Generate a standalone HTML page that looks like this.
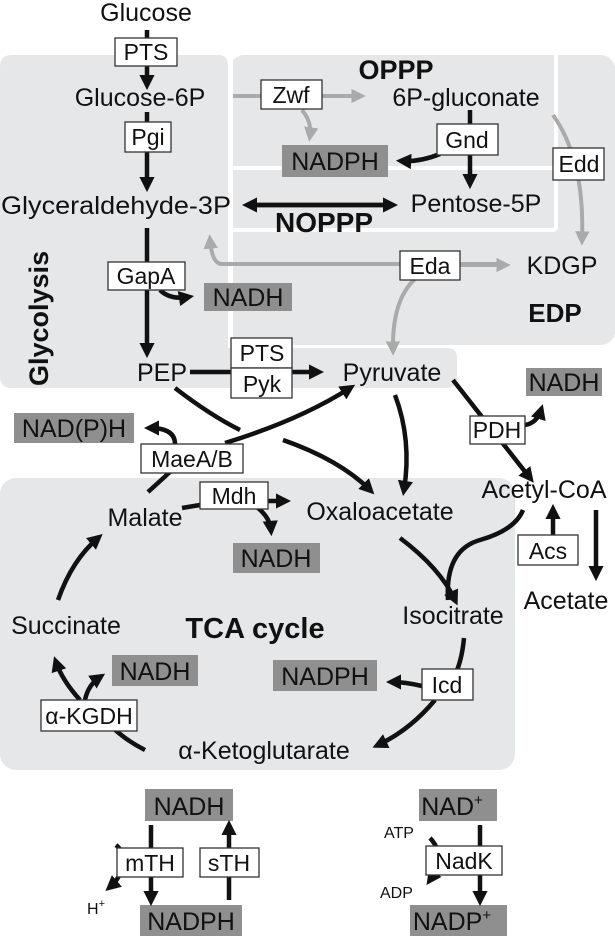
<!DOCTYPE html>
<html><head><meta charset="utf-8"><style>
html,body{margin:0;padding:0;background:#fff}
svg{display:block}
text{font-family:"Liberation Sans",sans-serif;fill:#111}
.l{font-size:25px}
.e{font-size:23px}
.b{font-weight:bold}
.bx{fill:#fff;stroke:#333;stroke-width:1.3}
.gb{fill:#8f8f8f}
.k{stroke:#111;stroke-width:4.5;fill:none}
.g{stroke:#aaa;stroke-width:4;fill:none}
</style></head><body>
<svg width="615" height="936" viewBox="0 0 615 936" xmlns="http://www.w3.org/2000/svg">
<defs>
<marker id="a" viewBox="0 0 10 10" refX="6" refY="5" markerWidth="3.4" markerHeight="3.4" orient="auto" markerUnits="strokeWidth"><path d="M0,0L10,5L0,10z" fill="#111"/></marker>
<marker id="ag" viewBox="0 0 10 10" refX="6" refY="5" markerWidth="3.6" markerHeight="3.6" orient="auto" markerUnits="strokeWidth"><path d="M0,0L10,5L0,10z" fill="#aaa"/></marker>
</defs>
<path d="M12,55 H218 Q228,55 228,65 V348 H447 Q457,348 457,358 V378 Q457,388 447,388 H12 Q0,388 0,376 V67 Q0,55 12,55Z" fill="#e6e7e8"/>
<rect x="230" y="55" width="385" height="290" rx="14" fill="#e6e7e8"/>
<rect x="229" y="55" width="4" height="293" fill="#fff"/>
<path d="M556,55 V226 Q556,230 552,230 H233" stroke="#fff" stroke-width="4" fill="none"/>
<path d="M233,168 H556" stroke="#fff" stroke-width="4"/>
<rect x="0" y="478" width="515" height="292" rx="16" fill="#e6e7e8"/>

<rect class="gb" x="282" y="145" width="106" height="32"/>
<rect class="gb" x="204" y="283" width="88" height="28"/>
<rect class="gb" x="526" y="368" width="76" height="28"/>
<rect class="gb" x="14" y="413" width="120" height="30"/>
<rect class="gb" x="233" y="543" width="87" height="30"/>
<rect class="gb" x="112" y="655" width="86" height="31"/>
<rect class="gb" x="273" y="660" width="104" height="31"/>
<rect class="gb" x="145" y="789" width="88" height="32"/>
<rect class="gb" x="140" y="905" width="102" height="31"/>
<rect class="gb" x="419" y="789" width="78" height="32"/>
<rect class="gb" x="410" y="905" width="97" height="31"/>

<path class="g" d="M233,96 H360" marker-end="url(#ag)"/>
<path class="g" d="M302,110 Q312,122 310,136" marker-end="url(#ag)"/>
<path class="g" d="M553,115 Q585,160 582,240" marker-end="url(#ag)"/>
<path class="g" d="M500,264 H222 Q212,264 210,240" marker-end="url(#ag)"/>
<path class="g" d="M459,265 H505" marker-end="url(#ag)"/>
<path class="g" d="M415,279 Q392,300 393,350" marker-end="url(#ag)"/>

<path class="k" d="M147,30 V84" marker-end="url(#a)"/>
<path class="k" d="M147,112 V186" marker-end="url(#a)"/>
<path class="k" d="M147,228 V352" marker-end="url(#a)"/>
<path class="k" d="M160,290 Q170,300 188,297" marker-end="url(#a)"/>
<path class="k" d="M190,372 H318" marker-end="url(#a)"/>
<path class="k" d="M470,110 V183" marker-end="url(#a)"/>
<path class="k" d="M440,154 Q420,162 402,161" marker-end="url(#a)"/>
<path class="k" d="M255,205 H392" marker-end="url(#a)"/>
<path class="k" d="M392,205 H248" marker-end="url(#a)"/>
<path class="k" d="M453,380 L530,478" marker-end="url(#a)"/>
<path class="k" d="M525,425 Q537,423 541,410" marker-end="url(#a)"/>
<path class="k" d="M395,395 Q412,440 404,490" marker-end="url(#a)"/>
<path class="k" d="M175,388 Q210,415 240,430"/>
<path class="k" d="M283,440 Q340,460 370,490" marker-end="url(#a)"/>
<path class="k" d="M225,443 Q300,420 350,388" marker-end="url(#a)"/>
<path class="k" d="M175,444 Q175,428 150,428" marker-end="url(#a)"/>
<path class="k" d="M148,492 L170,472"/>
<path class="k" d="M182,508 L200,505"/>
<path class="k" d="M268,501 H285" marker-end="url(#a)"/>
<path class="k" d="M258,508 Q270,518 271,530" marker-end="url(#a)"/>
<path class="k" d="M400,538 Q440,568 455,600" marker-end="url(#a)"/>
<path class="k" d="M523,510 Q515,530 480,540 Q445,550 448,600"/>
<path class="k" d="M553,565 V510" marker-end="url(#a)"/>
<path class="k" d="M596,510 V575" marker-end="url(#a)"/>
<path class="k" d="M464,638 Q462,660 455,675"/>
<path class="k" d="M422,686 Q405,682 392,682" marker-end="url(#a)"/>
<path class="k" d="M435,700 Q410,730 378,745" marker-end="url(#a)"/>
<path class="k" d="M145,750 Q125,740 110,725"/>
<path class="k" d="M80,700 Q62,680 56,662" marker-end="url(#a)"/>
<path class="k" d="M85,700 Q88,685 100,677" marker-end="url(#a)"/>
<path class="k" d="M58,600 Q72,560 98,538" marker-end="url(#a)"/>
<path class="k" d="M151,825 V900" marker-end="url(#a)"/>
<path class="k" d="M229,900 V826" marker-end="url(#a)"/>
<path class="k" d="M116,845 Q128,855 120,875"/>
<path class="k" d="M120,873 Q118,880 110,887" marker-end="url(#a)"/>
<path class="k" d="M480,825 V900" marker-end="url(#a)"/>
<path class="k" d="M430,838 Q442,850 437,870 L430,880" marker-end="url(#a)"/>

<rect class="bx" x="115" y="38" width="62" height="28"/><text class="e" x="146" y="60" text-anchor="middle">PTS</text>
<rect class="bx" x="125" y="122" width="46" height="30"/><text class="e" x="148" y="145" text-anchor="middle">Pgi</text>
<rect class="bx" x="108" y="262" width="77" height="28"/><text class="e" x="146" y="284" text-anchor="middle">GapA</text>
<rect class="bx" x="231" y="338" width="61" height="30"/><text class="e" x="262" y="361" text-anchor="middle">PTS</text>
<rect class="bx" x="231" y="368" width="61" height="30"/><text class="e" x="262" y="392" text-anchor="middle">Pyk</text>
<rect class="bx" x="261" y="80" width="61" height="29"/><text class="e" x="291" y="103" text-anchor="middle">Zwf</text>
<rect class="bx" x="437" y="124" width="61" height="31"/><text class="e" x="467" y="148" text-anchor="middle">Gnd</text>
<rect class="bx" x="553" y="148" width="51" height="32"/><text class="e" x="579" y="172" text-anchor="middle">Edd</text>
<rect class="bx" x="400" y="251" width="60" height="29"/><text class="e" x="430" y="274" text-anchor="middle">Eda</text>
<rect class="bx" x="470" y="416" width="55" height="28"/><text class="e" x="497" y="438" text-anchor="middle">PDH</text>
<rect class="bx" x="141" y="444" width="102" height="29"/><text class="e" x="192" y="467" text-anchor="middle">MaeA/B</text>
<rect class="bx" x="200" y="482" width="68" height="27"/><text class="e" x="234" y="504" text-anchor="middle">Mdh</text>
<rect class="bx" x="518" y="535" width="60" height="30"/><text class="e" x="548" y="559" text-anchor="middle">Acs</text>
<rect class="bx" x="422" y="669" width="51" height="31"/><text class="e" x="447" y="693" text-anchor="middle">Icd</text>
<rect class="bx" x="41" y="700" width="96" height="31"/><text class="e" x="89" y="724" text-anchor="middle">α-KGDH</text>
<rect class="bx" x="117" y="848" width="66" height="29"/><text class="e" x="150" y="871" text-anchor="middle">mTH</text>
<rect class="bx" x="200" y="848" width="59" height="29"/><text class="e" x="229" y="871" text-anchor="middle">sTH</text>
<rect class="bx" x="426" y="846" width="76" height="29"/><text class="e" x="464" y="869" text-anchor="middle">NadK</text>

<g class="l" text-anchor="middle">
<text x="146" y="21">Glucose</text>
<text x="140" y="106">Glucose-6P</text>
<text x="116" y="214" textLength="230" lengthAdjust="spacingAndGlyphs">Glyceraldehyde-3P</text>
<text x="162" y="381">PEP</text>
<text x="392" y="381">Pyruvate</text>
<text x="466" y="106">6P-gluconate</text>
<text x="476" y="212">Pentose-5P</text>
<text x="562" y="274">KDGP</text>
<text x="544" y="498">Acetyl-CoA</text>
<text x="145" y="526">Malate</text>
<text x="380" y="520">Oxaloacetate</text>
<text x="566" y="609">Acetate</text>
<text x="66" y="634">Succinate</text>
<text x="453" y="624">Isocitrate</text>
<text x="264" y="759">α-Ketoglutarate</text>
<text x="335" y="170">NADPH</text>
<text x="248" y="306">NADH</text>
<text x="564" y="391">NADH</text>
<text x="74" y="437">NAD(P)H</text>
<text x="276" y="567">NADH</text>
<text x="155" y="680">NADH</text>
<text x="325" y="685">NADPH</text>
<text x="189" y="815">NADH</text>
<text x="191" y="930">NADPH</text>
<text x="452" y="815">NAD<tspan font-size="15" dy="-10">+</tspan></text>
<text x="452" y="930">NADP<tspan font-size="15" dy="-10">+</tspan></text>
</g>
<text class="b" font-size="27" x="396" y="79" text-anchor="middle">OPPP</text>
<text class="b" font-size="28" x="324" y="232" text-anchor="middle">NOPPP</text>
<text class="b" font-size="26" x="555" y="322" text-anchor="middle">EDP</text>
<text class="b" font-size="29" x="255" y="638" text-anchor="middle">TCA cycle</text>
<text class="b" font-size="27" transform="translate(48,386) rotate(-90)">Glycolysis</text>
<text x="384" y="838" font-size="16">ATP</text>
<text x="380" y="898" font-size="16">ADP</text>
<text x="87" y="914" font-size="16">H<tspan font-size="11" dy="-7">+</tspan></text>
</svg>
</body></html>
